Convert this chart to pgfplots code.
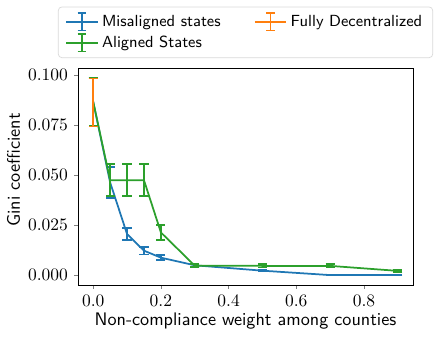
\documentclass[border=0pt]{standalone}
\usepackage{fontspec}
\usepackage{pgfplots}
\pgfplotsset{compat=1.18}
\usetikzlibrary{calc}
\definecolor{tabblue}{HTML}{1F77B4}
\definecolor{taborange}{HTML}{FF7F0E}
\definecolor{tabgreen}{HTML}{2CA02C}

\pgfplotstableread{
x     y       e
0.00  0.0867  0.0120
0.05  0.0464  0.0078
0.10  0.0206  0.0031
0.15  0.0123  0.0019
0.20  0.0088  0.0013
0.30  0.0050  0.0008
0.50  0.0023  0.0003
0.70  0.0001  0.0002
0.90  0.0001  0.0002
}\misaligned
\pgfplotstableread{
x     y       e
0.00  0.0867  0.0120
0.05  0.0475  0.0080
0.10  0.0475  0.0080
0.15  0.0475  0.0080
0.20  0.0214  0.0036
0.30  0.0048  0.0008
0.50  0.0047  0.0008
0.70  0.0047  0.0008
0.90  0.0022  0.0006
}\aligned
\pgfplotstableread{
x     y       e
0.00  0.0863  0.0120
}\decentral

\begin{document}
\begin{tikzpicture}
\begin{axis}[
  name=ax,
  scale only axis,
  width=191.7pt, height=124.2pt,
  xmin=-0.045, xmax=0.945,
  ymin=-0.0049, ymax=0.1035,
  xtick={0,0.2,0.4,0.6,0.8},
  ytick={0,0.025,0.05,0.075,0.1},
  scaled y ticks=false,
  x tick label style={/pgf/number format/.cd, fixed, fixed zerofill, precision=1},
  y tick label style={/pgf/number format/.cd, fixed, fixed zerofill, precision=3},
  tick align=outside, tick pos=left,
  major tick length=2.2pt,
  ticklabel style={font=\fontsize{10}{12}\selectfont},
  label style={font=\sffamily\fontsize{10.4}{12}\selectfont},
  xlabel={Non-compliance weight among counties},
  ylabel={Gini coefficient},
  xlabel style={at={(axis description cs:0.5,0)}, anchor=base, yshift=-22.9pt},
  ylabel style={at={(axis description cs:-0.173,0.53)}, anchor=base},
  legend columns=2,
  legend cell align=left,
  legend style={at={(0.5,1.046)}, anchor=south, font=\sffamily\fontsize{9.2}{11}\selectfont,
    draw=black!15, rounded corners=2pt, inner xsep=4pt, inner ysep=2.5pt,
    /tikz/every even column/.append style={column sep=17pt}},
  legend image code/.code={
    \draw[#1] (0pt,0pt) -- (18pt,0pt);
    \draw[#1] (9pt,-5pt) -- (9pt,5pt);
    \draw[#1] (6.5pt,-5pt) -- (11.5pt,-5pt);
    \draw[#1] (6.5pt,5pt) -- (11.5pt,5pt);
  },
  every axis plot/.append style={line width=1pt},
  error bars/error bar style={line width=1pt},
  error bars/error mark options={line width=1pt, mark size=2.6pt, rotate=90},
]
\addplot[tabblue, no marks, error bars/.cd, y dir=both, y explicit]
  table[x=x, y=y, y error=e] {\misaligned};
\addlegendentry{Misaligned states}
\addlegendimage{taborange, line width=1pt}
\addlegendentry{Fully Decentralized}
\addplot[tabgreen, no marks, error bars/.cd, y dir=both, y explicit]
  table[x=x, y=y, y error=e] {\aligned};
\addlegendentry{Aligned States}
\addplot[taborange, no marks, forget plot, error bars/.cd, y dir=both, y explicit]
  table[x=x, y=y, y error=e] {\decentral};
\end{axis}
\pgfresetboundingbox
\path ($(ax.south west)+(-44.6pt,-29.7pt)$) rectangle ($(ax.north east)+(13.7pt,38.9pt)$);
\end{tikzpicture}
\end{document}
